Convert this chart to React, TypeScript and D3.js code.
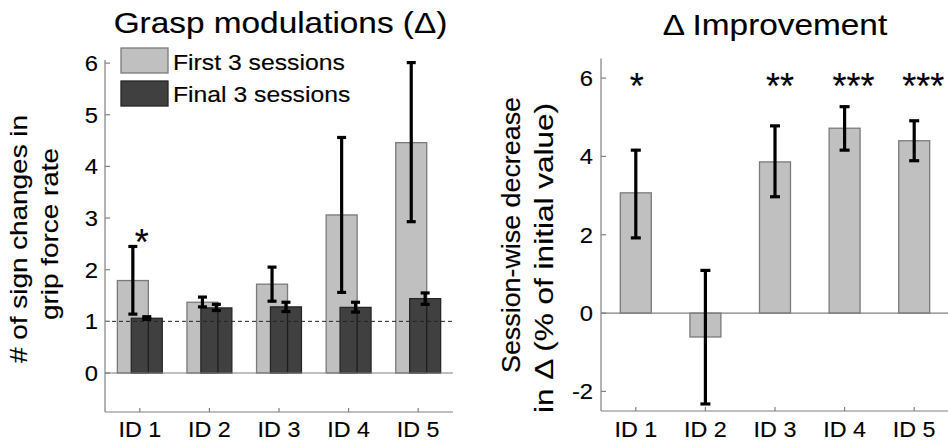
import React from "react";
import * as d3 from "d3";

const categories = ["ID 1", "ID 2", "ID 3", "ID 4", "ID 5"];
const firstMean = [1.79, 1.37, 1.72, 3.06, 4.46];
const firstLo = [1.14, 1.28, 1.39, 1.56, 2.93];
const firstHi = [2.45, 1.47, 2.05, 4.56, 6.01];
const finalMean = [1.06, 1.26, 1.28, 1.27, 1.44];
const finalLo = [1.04, 1.21, 1.19, 1.18, 1.33];
const finalHi = [1.09, 1.33, 1.37, 1.37, 1.55];
const leftStars = ["*", "", "", "", ""];
const leftTicks = [0, 1, 2, 3, 4, 5, 6];

const improvement = [3.07, -0.61, 3.86, 4.72, 4.40];
const improvementLo = [1.92, -2.32, 2.97, 4.16, 3.89];
const improvementHi = [4.16, 1.09, 4.78, 5.27, 4.91];
const rightStars = ["*", "", "**", "***", "***"];
const rightTicks = [-2, 0, 2, 4, 6];

const FONT = "'Liberation Sans', Arial, Helvetica, sans-serif";
const SX = 1.13;
const LIGHT = "#c0c0c0";
const LIGHT_EDGE = "#7a7a7a";
const DARK = "#404040";
const DARK_EDGE = "#262626";
const AXIS = "#808080";
const TEXT_STROKE = 0.15;
const TICK_SIZE = 22;

function HText(props: {
  x: number;
  y: number;
  size: number;
  anchor?: string;
  children: React.ReactNode;
  sx?: number;
}) {
  const s = props.sx ?? SX;
  return (
    <text
      transform={`translate(${props.x},${props.y}) scale(${s},1)`}
      fontSize={props.size}
      fontFamily={FONT}
      textAnchor={props.anchor ?? "middle"}
      fill="#000"
      stroke="#000"
      strokeWidth={TEXT_STROKE}
    >
      {props.children}
    </text>
  );
}

function VText(props: { x: number; y: number; size: number; len: number; children: React.ReactNode }) {
  return (
    <text
      transform={`translate(${props.x},${props.y}) rotate(-90)`}
      fontSize={props.size}
      fontFamily={FONT}
      textAnchor="middle"
      textLength={props.len}
      lengthAdjust="spacingAndGlyphs"
      fill="#000"
      stroke="#000"
      strokeWidth={TEXT_STROKE}
    >
      {props.children}
    </text>
  );
}

function ErrorBar(props: { x: number; y1: number; y2: number; cap: number }) {
  const { x, y1, y2, cap } = props;
  return (
    <g stroke="#000" strokeWidth={3.2}>
      <line x1={x} x2={x} y1={y1} y2={y2} />
      <line x1={x - cap / 2} x2={x + cap / 2} y1={y1} y2={y1} />
      <line x1={x - cap / 2} x2={x + cap / 2} y1={y2} y2={y2} />
    </g>
  );
}

function LeftPanel() {
  const x = d3.scaleLinear().domain([0.5, 5.5]).range([105, 453]);
  const y = d3.scaleLinear().domain([-0.755, 6.06]).range([412, 60]);
  const off = 0.1;
  const bw = x(0.445) - x(0);
  const idx = categories.map((_, i) => i + 1);
  return (
    <g>
      {idx.map((c, i) => (
        <rect
          key={"l" + i}
          x={x(c - off) - bw / 2}
          y={y(firstMean[i])}
          width={bw}
          height={y(0) - y(firstMean[i])}
          fill={LIGHT}
          stroke={LIGHT_EDGE}
          strokeWidth={1.3}
        />
      ))}
      {idx.map((c, i) => (
        <rect
          key={"d" + i}
          x={x(c + off) - bw / 2}
          y={y(finalMean[i])}
          width={bw}
          height={y(0) - y(finalMean[i])}
          fill={DARK}
          stroke={DARK_EDGE}
          strokeWidth={1.3}
        />
      ))}
      {idx.map((c, i) => (
        <line
          key={"e" + i}
          x1={x(c - off) + bw / 2}
          x2={x(c - off) + bw / 2}
          y1={y(0)}
          y2={y(Math.min(firstMean[i], finalMean[i]))}
          stroke="#1e1e1e"
          strokeWidth={1.3}
        />
      ))}
      <line x1={x(0.5)} x2={x(5.5)} y1={y(0)} y2={y(0)} stroke={AXIS} strokeWidth={1.2} />
      <line
        x1={x(0.5)}
        x2={x(5.5)}
        y1={y(1)}
        y2={y(1)}
        stroke="#222"
        strokeWidth={1}
        strokeDasharray="4,3"
      />
      {idx.map((c, i) => (
        <ErrorBar key={"el" + i} x={x(c - off)} y1={y(firstHi[i])} y2={y(firstLo[i])} cap={9} />
      ))}
      {idx.map((c, i) => (
        <ErrorBar key={"ed" + i} x={x(c + off)} y1={y(finalHi[i])} y2={y(finalLo[i])} cap={9} />
      ))}
      {idx.map((c, i) =>
        leftStars[i] ? (
          <HText key={"s" + i} x={x(c) + 2} y={y(firstHi[i]) - 11 + 20} size={36} sx={1}>
            {leftStars[i]}
          </HText>
        ) : null
      )}
      <line x1={x(0.5)} x2={x(0.5)} y1={y.range()[0]} y2={y.range()[1]} stroke={AXIS} strokeWidth={1.2} />
      <line x1={x(0.5)} x2={x(5.5)} y1={y.range()[0]} y2={y.range()[0]} stroke={AXIS} strokeWidth={1.2} />
      {leftTicks.map((t) => (
        <g key={"yt" + t}>
          <line x1={x(0.5)} x2={x(0.5) + 5} y1={y(t)} y2={y(t)} stroke={AXIS} strokeWidth={1.2} />
          <HText x={x(0.5) - 7} y={y(t) + 8} size={TICK_SIZE} anchor="end" sx={1.08}>
            {t}
          </HText>
        </g>
      ))}
      {idx.map((c, i) => (
        <g key={"xt" + i}>
          <line x1={x(c)} x2={x(c)} y1={y.range()[0]} y2={y.range()[0] - 4} stroke={AXIS} strokeWidth={1.2} />
          <HText x={x(c)} y={437} size={TICK_SIZE} sx={1.06}>
            {categories[i]}
          </HText>
        </g>
      ))}
      <rect x={121} y={48} width={47} height={25} fill={LIGHT} stroke={LIGHT_EDGE} strokeWidth={1.3} />
      <rect x={121} y={81} width={47} height={25} fill={DARK} stroke={DARK_EDGE} strokeWidth={1.3} />
      <HText x={173} y={70} size={22.5} anchor="start" sx={1.1}>
        First 3 sessions
      </HText>
      <HText x={173} y={102} size={22.5} anchor="start" sx={1.1}>
        Final 3 sessions
      </HText>
      <HText x={280.5} y={33} size={29} sx={1.15}>
        Grasp modulations (Δ)
      </HText>
      <VText x={27} y={239} size={24} len={248}>
        # of sign changes in
      </VText>
      <VText x={58} y={234} size={24} len={172}>
        grip force rate
      </VText>
    </g>
  );
}

function RightPanel() {
  const x = d3.scaleLinear().domain([0.5, 5.5]).range([601, 949]);
  const y = d3.scaleLinear().domain([-2.5, 6.5]).range([411, 58.5]);
  const bw = x(0.445) - x(0);
  const idx = categories.map((_, i) => i + 1);
  return (
    <g>
      {idx.map((c, i) => {
        const v = improvement[i];
        return (
          <rect
            key={"b" + i}
            x={x(c) - bw / 2}
            y={y(Math.max(v, 0))}
            width={bw}
            height={Math.abs(y(v) - y(0))}
            fill={LIGHT}
            stroke={LIGHT_EDGE}
            strokeWidth={1.3}
          />
        );
      })}
      <line x1={x(0.5)} x2={x(5.5)} y1={y(0)} y2={y(0)} stroke={AXIS} strokeWidth={1.2} />
      {idx.map((c, i) => (
        <ErrorBar key={"e" + i} x={x(c)} y1={y(improvementHi[i])} y2={y(improvementLo[i])} cap={10} />
      ))}
      {idx.map((c, i) =>
        rightStars[i] ? (
          <HText
            key={"s" + i}
            x={x(c) + 1 + 4 * (rightStars[i].length - 1)}
            y={y(6) + 21}
            size={36}
            sx={1}
          >
            {rightStars[i]}
          </HText>
        ) : null
      )}
      <line x1={x(0.5)} x2={x(0.5)} y1={y.range()[0]} y2={y.range()[1]} stroke={AXIS} strokeWidth={1.2} />
      <line x1={x(0.5)} x2={x(5.5)} y1={y.range()[0]} y2={y.range()[0]} stroke={AXIS} strokeWidth={1.2} />
      {rightTicks.map((t) => (
        <g key={"yt" + t}>
          <line x1={x(0.5)} x2={x(0.5) + 5} y1={y(t)} y2={y(t)} stroke={AXIS} strokeWidth={1.2} />
          <HText x={x(0.5) - 8} y={y(t) + 8} size={TICK_SIZE} anchor="end" sx={1.08}>
            {t}
          </HText>
        </g>
      ))}
      {idx.map((c, i) => (
        <g key={"xt" + i}>
          <line x1={x(c)} x2={x(c)} y1={y.range()[0]} y2={y.range()[0] - 4} stroke={AXIS} strokeWidth={1.2} />
          <HText x={x(c)} y={437} size={TICK_SIZE} sx={1.06}>
            {categories[i]}
          </HText>
        </g>
      ))}
      <HText x={775} y={35} size={29} sx={1.15}>
        Δ Improvement
      </HText>
      <VText x={520} y={235} size={25} len={276}>
        Session-wise decrease
      </VText>
      <VText x={553} y={258} size={25} len={310}>
        in Δ (% of initial value)
      </VText>
    </g>
  );
}

export default function App() {
  return (
    <svg
      width={948}
      height={444}
      style={{ position: "fixed", left: 0, top: 0, background: "#fff" }}
    >
      <rect width={948} height={444} fill="#fff" />
      <LeftPanel />
      <RightPanel />
    </svg>
  );
}
